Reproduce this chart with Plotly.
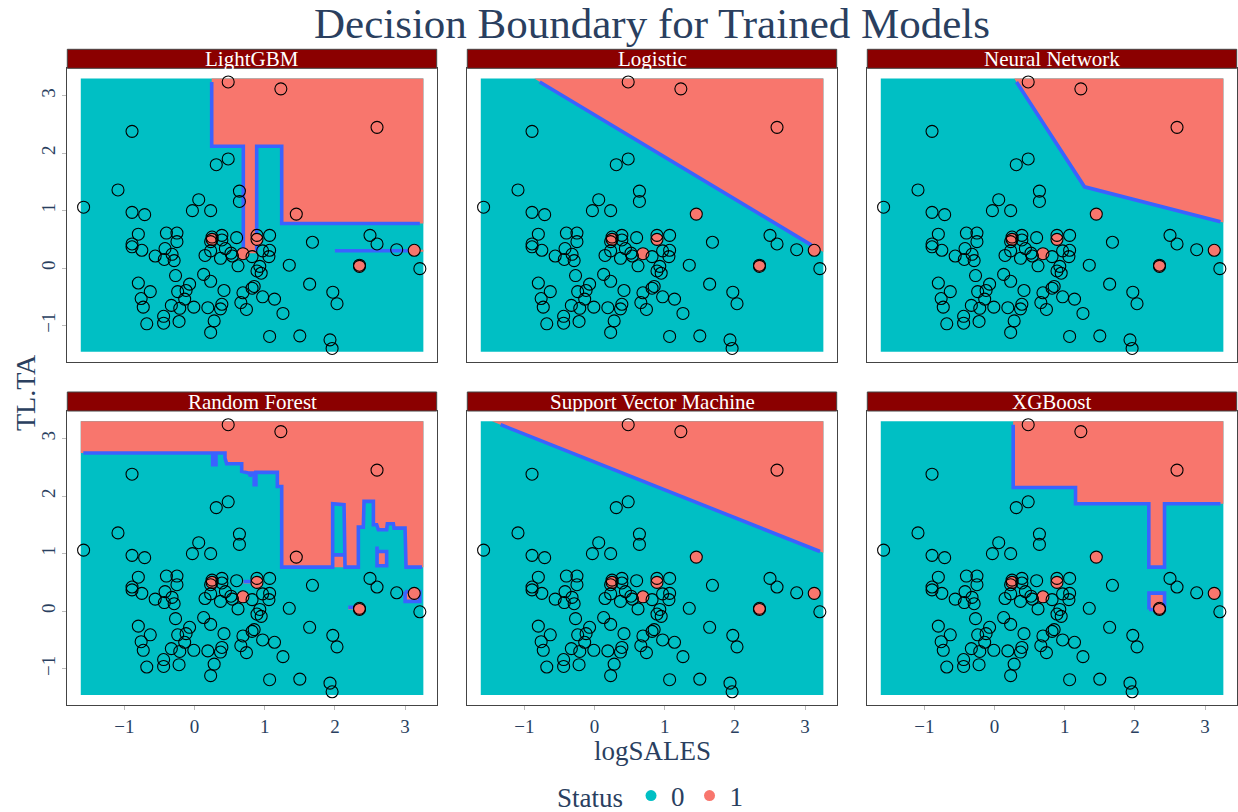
import plotly.graph_objects as go

# ---------------- data ----------------
LOG_SALES = [0.48, 1.23, 2.60, -0.89, 0.48, 0.31, -1.09, 0.64, 0.64, -1.58,
             0.06, -0.03, 0.23, -0.89, -0.71, 1.45, -0.80, -0.40, -0.25, -0.25,
             -0.89, -0.89, -0.75, -0.56, -0.42, -0.43, -0.32, -0.29, 0.25, 0.25,
             0.23, 0.39, 0.39, 0.60, 0.89, 0.89, 1.07, 0.23, 0.15, 0.44,
             0.37, 0.52, 0.54, 0.69, 0.82, 0.97, 1.07, 1.06, 0.62, 0.93,
             0.89, 0.95, -0.27, 0.13, 0.23, -0.80, -0.63, -0.76, -0.73, -0.07,
             -0.12, -0.24, -0.14, -0.33, -0.21, -0.01, 0.19, 0.39, 0.37, 0.42,
             0.69, 0.66, 0.74, 0.82, 0.85, 0.97, 1.14, 1.26, 1.35, 1.68,
             1.64, 1.97, 2.03, 2.50, 2.60, 2.88, 3.13, 2.35, 2.35, 3.21,
             1.07, 1.50, 1.93, 1.96, -0.68, -0.44, -0.44, -0.22, 0.28, 0.23]
TL_TA = [3.24, 3.12, 2.45, 2.38, 1.90, 1.80, 1.36, 1.34, 1.16, 1.06,
         1.19, 1.00, 1.00, 0.97, 0.93, 0.94, 0.59, 0.61, 0.61, 0.46,
         0.42, 0.37, 0.31, 0.21, 0.34, 0.15, 0.24, 0.13, 0.54, 0.50,
         0.46, 0.57, 0.49, 0.53, 0.57, 0.50, 0.57, 0.30, 0.22, 0.34,
         0.17, 0.26, 0.21, 0.25, 0.20, 0.30, 0.31, 0.20, 0.04, 0.03,
         -0.05, -0.09, -0.13, -0.11, -0.23, -0.26, -0.41, -0.53, -0.68, -0.28,
         -0.39, -0.41, -0.54, -0.65, -0.70, -0.68, -0.69, -0.63, -0.71, -0.39,
         -0.43, -0.60, -0.72, -0.35, -0.32, -0.50, -0.54, -0.79, 0.05, 0.45,
         -0.28, -0.42, -0.62, 0.57, 0.42, 0.32, 0.31, 0.03, 0.05, -0.01,
         -1.19, -1.18, -1.25, -1.40, -0.97, -0.84, -0.96, -0.93, -0.92, -1.12]
STATUS = [0, 0, 0, 0, 0, 0, 0, 0, 0, 0,
          0, 0, 0, 0, 0, 1, 0, 0, 0, 0,
          0, 0, 0, 0, 0, 0, 0, 0, 0, 1,
          0, 0, 0, 0, 0, 1, 0, 0, 0, 0,
          0, 0, 0, 1, 0, 0, 0, 0, 0, 0,
          0, 0, 0, 0, 0, 0, 0, 0, 0, 0,
          0, 0, 0, 0, 0, 0, 0, 0, 0, 0,
          0, 0, 0, 0, 0, 0, 0, 0, 0, 0,
          0, 0, 0, 0, 0, 0, 1, 1, 0, 0,
          0, 0, 0, 0, 0, 0, 0, 0, 0, 0]

MODELS = ["LightGBM", "Logistic", "Neural Network",
          "Random Forest", "Support Vector Machine", "XGBoost"]
STATUS_LEVELS = ["0", "1"]

# extent of the prediction grid
GRID_X = [-1.62, 3.26]
GRID_Y = [-1.455, 3.30]

# regions predicted as Status = 1 and the drawn decision boundaries
LIGHTGBM_REGIONS = [
    [(0.245, 3.30), (3.26, 3.30), (3.26, 0.777), (1.242, 0.777), (1.242, 2.122),
     (0.886, 2.122), (0.886, 0.26), (0.695, 0.26), (0.695, 2.122), (0.245, 2.122)],
    [(2.00, 0.285), (3.26, 0.285), (3.26, 0.32), (2.00, 0.32)],
]
LIGHTGBM_LINES = [
    [(0.245, 3.24), (0.245, 2.122), (0.695, 2.122), (0.695, 0.30)],
    [(0.886, 0.30), (0.886, 2.122), (1.242, 2.122), (1.242, 0.777), (3.21, 0.777)],
    [(2.00, 0.302), (3.21, 0.302)],
]

LOGISTIC_REGIONS = [[(-0.858, 3.30), (3.26, 3.30), (3.26, 0.278)]]
LOGISTIC_LINES = [[(-0.78, 3.24), (3.09, 0.40)]]

NN_REGIONS = [[(0.281, 3.30), (3.26, 3.30), (3.26, 0.793), (1.282, 1.414)]]
NN_LINES = [[(0.313, 3.24), (1.282, 1.414), (3.219, 0.806)]]

RF_LINE = [(-1.584, 2.747), (0.259, 2.747), (0.259, 2.544), (0.306, 2.544), (0.306, 2.747),
           (0.434, 2.747), (0.434, 2.66), (0.458, 2.562), (0.672, 2.562), (0.672, 2.428),
           (0.767, 2.40), (0.791, 2.40), (0.791, 2.342), (0.814, 2.40), (0.850, 2.40),
           (0.850, 2.197), (0.875, 2.197), (0.875, 2.411), (1.180, 2.411), (1.180, 2.167),
           (1.242, 2.167), (1.242, 0.765), (1.968, 0.765), (1.968, 1.866), (2.130, 1.849),
           (2.144, 0.765), (2.334, 0.765), (2.334, 1.460), (2.405, 1.460), (2.415, 1.907),
           (2.548, 1.907), (2.548, 1.501), (2.595, 1.501), (2.619, 1.414), (2.737, 1.414),
           (2.747, 1.518), (2.832, 1.518), (2.842, 1.443), (2.999, 1.443), (3.013, 0.765),
           (3.24, 0.765)]
RF_ISLANDS = [
    [(0.70, 0.48), (0.89, 0.48), (0.89, 0.53), (0.70, 0.53)],
    [(2.19, 0.03), (2.34, 0.03), (2.34, 0.08), (2.19, 0.08)],
    [(3.00, 0.17), (3.21, 0.17), (3.21, 0.34), (3.00, 0.34)],
    [(2.619, 0.79), (2.737, 0.79), (2.737, 1.037), (2.619, 1.037)],
    [(1.968, 0.765), (2.144, 0.765), (2.144, 0.979), (1.968, 0.979)],
]
RF_REGIONS = [[(GRID_X[0], RF_LINE[0][1])] + RF_LINE
              + [(GRID_X[1], RF_LINE[-1][1]), (GRID_X[1], GRID_Y[1]), (GRID_X[0], GRID_Y[1])]] + RF_ISLANDS
RF_LINES = [
    RF_LINE,
    [(0.70, 0.515), (0.89, 0.515)],
    [(2.19, 0.069), (2.33, 0.069)],
    [(3.00, 0.34), (3.00, 0.17), (3.21, 0.17), (3.21, 0.34), (3.00, 0.34)],
    [(2.60, 1.124), (2.60, 0.79), (2.737, 0.79), (2.737, 1.037), (2.619, 1.037)],
    [(1.968, 0.979), (2.144, 0.979)],
]

SVM_REGIONS = [[(-1.461, 3.30), (3.26, 3.30), (3.26, 1.014)]]
SVM_LINES = [[(-1.337, 3.24), (3.212, 1.037)]]

XGB_REGIONS = [
    [(0.266, 3.30), (3.26, 3.30), (3.26, 1.866), (2.422, 1.866), (2.422, 0.765),
     (2.198, 0.765), (2.198, 1.866), (1.154, 1.866), (1.154, 2.150), (0.266, 2.150)],
    [(2.198, 0.02), (2.422, 0.02), (2.422, 0.313), (2.198, 0.313)],
]
XGB_LINES = [
    [(0.266, 3.24), (0.266, 2.150), (1.154, 2.150), (1.154, 1.866), (2.198, 1.866),
     (2.198, 0.765), (2.422, 0.765), (2.422, 1.866), (3.219, 1.866)],
    [(2.20, 0.03), (2.20, 0.313), (2.422, 0.313), (2.422, 0.03), (2.20, 0.03)],
]

PANEL_REGIONS = [LIGHTGBM_REGIONS, LOGISTIC_REGIONS, NN_REGIONS, RF_REGIONS, SVM_REGIONS, XGB_REGIONS]
PANEL_LINES = [LIGHTGBM_LINES, LOGISTIC_LINES, NN_LINES, RF_LINES, SVM_LINES, XGB_LINES]

TICKS = [-1, 0, 1, 2, 3]

# ---------------- styling / layout ----------------
W, H = 1238, 812


def py(v):
    """pixel row (from top of figure) -> paper / container y"""
    return 1 - v / H


TEAL = "#00BFC4"
SALMON = "#F8766D"
BLUE = "#3A62FF"
TXT = "#2a3f5f"
FONT = "Liberation Serif"
COL_PX = [(67.3, 436.7), (467.3, 836.7), (867.3, 1236.7)]
ROW_PX = [(68.3, 361.7), (411.0, 705.0)]
STRIP_H = 19.0
XRANGE = [-1.812, 3.450]
YRANGE = [-1.630, 3.478]

fig = go.Figure()

x0s = [x for x, s in zip(LOG_SALES, STATUS) if s == 0]
y0s = [y for y, s in zip(TL_TA, STATUS) if s == 0]
x1s = [x for x, s in zip(LOG_SALES, STATUS) if s == 1]
y1s = [y for y, s in zip(TL_TA, STATUS) if s == 1]

for i, name in enumerate(MODELS):
    key = "" if i == 0 else str(i + 1)
    xa, ya = "x" + key, "y" + key
    common = dict(xaxis=xa, yaxis=ya, hoverinfo="skip", showlegend=False)
    fig.add_trace(go.Scatter(
        x=[GRID_X[0], GRID_X[1], GRID_X[1], GRID_X[0], GRID_X[0]],
        y=[GRID_Y[0], GRID_Y[0], GRID_Y[1], GRID_Y[1], GRID_Y[0]],
        mode="lines", fill="toself", fillcolor=TEAL, line=dict(width=0), **common))
    for poly in PANEL_REGIONS[i]:
        fig.add_trace(go.Scatter(
            x=[p[0] for p in poly] + [poly[0][0]], y=[p[1] for p in poly] + [poly[0][1]],
            mode="lines", fill="toself", fillcolor=SALMON, line=dict(width=0), **common))
    for ln in PANEL_LINES[i]:
        fig.add_trace(go.Scatter(
            x=[p[0] for p in ln], y=[p[1] for p in ln], mode="lines",
            line=dict(color=BLUE, width=3.6), **common))
    fig.add_trace(go.Scatter(
        x=x1s, y=y1s, mode="markers",
        marker=dict(size=12, color=SALMON, line=dict(color="black", width=1.1)), **common))
    fig.add_trace(go.Scatter(
        x=x0s, y=y0s, mode="markers",
        marker=dict(size=12, color="rgba(0,0,0,0)", line=dict(color="black", width=1.1)), **common))

# legend entries
for lev, col in zip(STATUS_LEVELS, [TEAL, SALMON]):
    fig.add_trace(go.Scatter(x=[None], y=[None], mode="markers", name=lev,
                             marker=dict(size=11, color=col), showlegend=True))

layout = {}
shapes = []
annotations = []
for i, name in enumerate(MODELS):
    r, c = divmod(i, 3)
    key = "" if i == 0 else str(i + 1)
    cx0, cx1 = COL_PX[c]
    ry0, ry1 = ROW_PX[r]
    layout["xaxis" + key] = dict(
        domain=[cx0 / W, cx1 / W], range=XRANGE, anchor="y" + key,
        tickvals=TICKS, showticklabels=(r == 1), ticks="outside" if r == 1 else "",
        ticklen=4, tickcolor="#bbbbbb", showgrid=False, zeroline=False,
        showline=True, mirror=True, linecolor="#444444", linewidth=1,
        tickfont=dict(family=FONT, size=19, color=TXT))
    layout["yaxis" + key] = dict(
        domain=[py(ry1), py(ry0)], range=YRANGE, anchor="x" + key,
        tickvals=TICKS, showticklabels=(c == 0), ticks="outside" if c == 0 else "",
        ticklen=4, tickcolor="#bbbbbb", showgrid=False, zeroline=False, tickangle=-90,
        showline=True, mirror=True, linecolor="#444444", linewidth=1,
        tickfont=dict(family=FONT, size=19, color=TXT))
    shapes.append(dict(type="rect", xref="paper", yref="paper",
                       x0=cx0 / W, x1=cx1 / W, y0=py(ry0), y1=py(ry0 - STRIP_H),
                       fillcolor="#8B0000", line=dict(color="#444444", width=1), layer="above"))
    annotations.append(dict(text=name, xref="paper", yref="paper",
                            x=(cx0 + cx1) / 2 / W, y=py(ry0 - STRIP_H / 2),
                            xanchor="center", yanchor="middle", showarrow=False,
                            font=dict(family=FONT, size=21, color="white")))

mid_x = (COL_PX[0][0] + COL_PX[2][1]) / 2 / W
annotations.append(dict(text="Decision Boundary for Trained Models", xref="paper", yref="paper",
                        x=mid_x, y=py(24), xanchor="center", yanchor="middle", showarrow=False,
                        font=dict(family=FONT, size=43, color=TXT)))
annotations.append(dict(text="logSALES", xref="paper", yref="paper",
                        x=mid_x, y=py(751), xanchor="center", yanchor="middle", showarrow=False,
                        font=dict(family=FONT, size=27, color=TXT)))
annotations.append(dict(text="TL.TA", xref="paper", yref="paper", textangle=-90,
                        x=25 / W, y=py(393), xanchor="center", yanchor="middle", showarrow=False,
                        font=dict(family=FONT, size=28, color=TXT)))

fig.update_layout(
    width=W, height=H, margin=dict(l=0, r=0, t=0, b=0, autoexpand=False),
    paper_bgcolor="white", plot_bgcolor="white",
    shapes=shapes, annotations=annotations,
    legend=dict(orientation="h", xref="container", yref="container",
                x=mid_x, xanchor="center", y=py(796), yanchor="middle",
                title=dict(text="Status", font=dict(family=FONT, size=27, color=TXT)),
                font=dict(family=FONT, size=27, color=TXT), bgcolor="rgba(0,0,0,0)"),
    **layout)

fig.write_html("out.html")
